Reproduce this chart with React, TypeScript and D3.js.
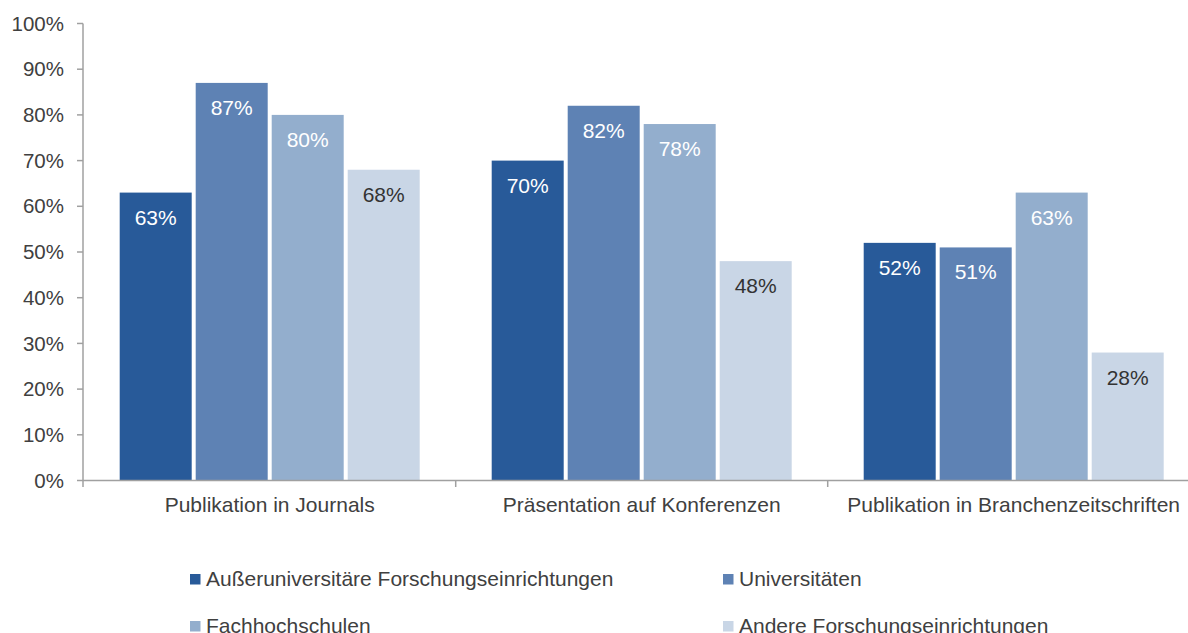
import React from "react";
import * as d3 from "d3";

const categories = [
  "Publikation in Journals",
  "Präsentation auf Konferenzen",
  "Publikation in Branchenzeitschriften",
];
const seriesNames = [
  "Außeruniversitäre Forschungseinrichtungen",
  "Universitäten",
  "Fachhochschulen",
  "Andere Forschungseinrichtungen",
];
const ausseruni = [63, 70, 52];
const universitaeten = [87, 82, 51];
const fachhochschulen = [80, 78, 63];
const andere = [68, 48, 28];
const yTicks = [0, 10, 20, 30, 40, 50, 60, 70, 80, 90, 100];

const seriesValues = [ausseruni, universitaeten, fachhochschulen, andere];
const colors = ["#285A99", "#5E82B4", "#93AECD", "#C9D6E6"];
const labelColors = ["#FFFFFF", "#FFFFFF", "#FFFFFF", "#333333"];

const W = 1188;
const H = 633;
const FONT = "'Liberation Sans', Arial, sans-serif";
const TEXT = "#404040";
const AXIS = "#A0A0A0";

export default function App() {
  const x0 = d3
    .scaleBand<string>()
    .domain(categories)
    .range([83.7, 83.7 + 3 * 372])
    .paddingInner(0)
    .paddingOuter(0);
  const x1 = d3
    .scaleBand<string>()
    .domain(seriesNames)
    .range([36, 336])
    .paddingInner(4 / 76)
    .paddingOuter(0);
  const y = d3.scaleLinear().domain([0, 100]).range([480.5, 23.5]);

  const legendPos = [
    { x: 190, y: 574 },
    { x: 723, y: 574 },
    { x: 190, y: 621 },
    { x: 723, y: 621 },
  ];

  return (
    <svg
      width={W}
      height={H}
      style={{ position: "fixed", left: 0, top: 0, background: "#fff" }}
      fontFamily={FONT}
    >
      <rect x={0} y={0} width={W} height={H} fill="#fff" />
      {/* bars */}
      {categories.map((c, ci) => (
        <g key={c} transform={`translate(${x0(c)},0)`}>
          {seriesNames.map((s, si) => {
            const v = seriesValues[si][ci];
            const bx = x1(s)!;
            const bw = x1.bandwidth();
            return (
              <g key={s}>
                <rect
                  x={bx}
                  y={y(v)}
                  width={bw}
                  height={y(0) - y(v)}
                  fill={colors[si]}
                />
                <text
                  x={bx + bw / 2}
                  y={y(v) + 32}
                  textAnchor="middle"
                  fontSize={21}
                  fill={labelColors[si]}
                >
                  {v}%
                </text>
              </g>
            );
          })}
        </g>
      ))}
      {/* y axis */}
      <line x1={83} x2={83} y1={y(100)} y2={487} stroke={AXIS} strokeWidth={1.5} />
      {yTicks.map((t) => (
        <g key={t}>
          <line x1={77} x2={83} y1={y(t)} y2={y(t)} stroke={AXIS} strokeWidth={1.5} />
          <text
            x={64}
            y={y(t)}
            dy="0.35em"
            textAnchor="end"
            fontSize={20.5}
            fill={TEXT}
          >
            {t}%
          </text>
        </g>
      ))}
      {/* x axis */}
      <line x1={83} x2={W} y1={y(0)} y2={y(0)} stroke={AXIS} strokeWidth={1.5} />
      {categories.map((c, ci) =>
        ci > 0 ? (
          <line
            key={"t" + c}
            x1={x0(c)!}
            x2={x0(c)!}
            y1={y(0)}
            y2={487}
            stroke={AXIS}
            strokeWidth={1.5}
          />
        ) : null
      )}
      {categories.map((c) => (
        <text
          key={"l" + c}
          x={x0(c)! + x0.bandwidth() / 2}
          y={512}
          textAnchor="middle"
          fontSize={21}
          fill={TEXT}
        >
          {c}
        </text>
      ))}
      {/* legend */}
      {seriesNames.map((s, i) => (
        <g key={"lg" + s}>
          <rect x={legendPos[i].x} y={legendPos[i].y} width={10.5} height={10.5} fill={colors[i]} />
          <text x={legendPos[i].x + 16} y={legendPos[i].y + 11.5} fontSize={21} fill={TEXT}>
            {s}
          </text>
        </g>
      ))}
    </svg>
  );
}
